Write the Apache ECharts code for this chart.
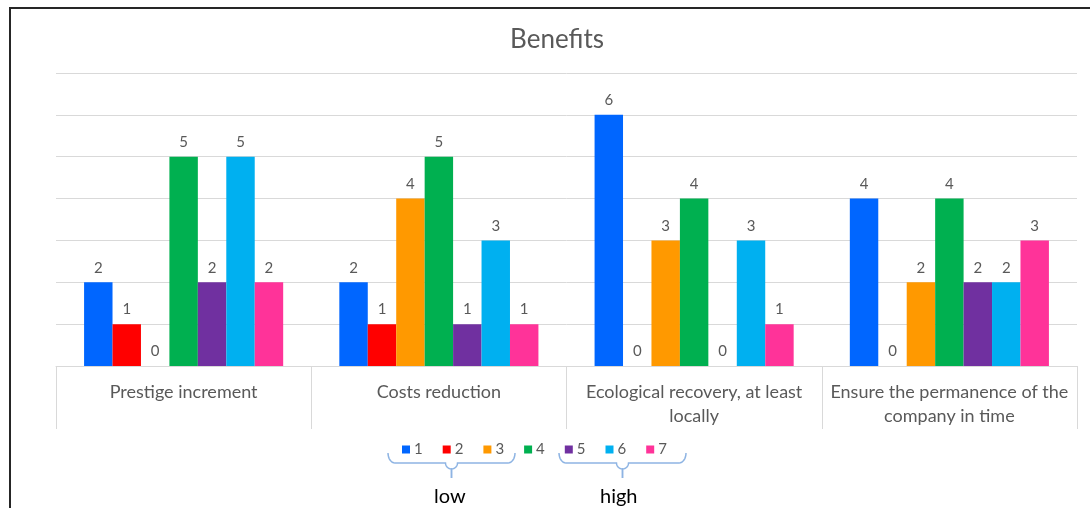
<!DOCTYPE html>
<html>
<head>
<meta charset="utf-8">
<script src="https://cdn.jsdelivr.net/npm/echarts@6/dist/echarts.min.js"></script>
<style>html,body{margin:0;padding:0;background:#fff}#c{width:1090px;height:508px}</style>
</head>
<body>
<div id="c"></div>
<script>
const categories = ["Prestige increment", "Costs reduction", "Ecological recovery, at least\nlocally", "Ensure the permanence of the\ncompany in time"];
const seriesNames = ["1", "2", "3", "4", "5", "6", "7"];
const s1 = [2, 2, 6, 4];
const s2 = [1, 1, 0, 0];
const s3 = [0, 4, 3, 2];
const s4 = [5, 5, 4, 4];
const s5 = [2, 1, 0, 2];
const s6 = [5, 3, 3, 2];
const s7 = [2, 1, 1, 3];
const colors = ["#0066FF", "#FF0000", "#FF9900", "#00B050", "#7030A0", "#00B0F0", "#FF3399"];
const allSeries = [s1, s2, s3, s4, s5, s6, s7];
const FONT = "Lato";

function braceHalf(x0, xm, yTop, yMid, yTip, dir) {
  const pts = [];
  const r = 7;
  for (let k = 0; k <= 8; k++) {
    const a = Math.PI / 2 * k / 8;
    pts.push([x0 + dir * r * (1 - Math.cos(a)), yTop + (yMid - yTop) * Math.sin(a)]);
  }
  for (let k = 0; k <= 8; k++) {
    const a = Math.PI / 2 * k / 8;
    pts.push([xm - dir * 6 * Math.cos(a), yMid + 6 * Math.sin(a)]);
  }
  pts.push([xm, yTip]);
  return pts;
}
function brace(x0, x1, yTop, yMid, yTip) {
  const xm = (x0 + x1) / 2;
  const st = { fill: 'none', stroke: '#8EB4E3', lineWidth: 1.5 };
  return [
    { type: 'polyline', shape: { points: braceHalf(x0, xm, yTop, yMid, yTip, 1) }, style: st, silent: true },
    { type: 'polyline', shape: { points: braceHalf(x1, xm, yTop, yMid, yTip, -1) }, style: st, silent: true }
  ];
}

const chart = echarts.init(document.getElementById('c'));
chart.setOption({
  animation: false,
  backgroundColor: '#fff',
  textStyle: { fontFamily: FONT },
  title: {
    text: 'Benefits', left: 552, top: 22, textAlign: 'center',
    textStyle: { fontFamily: FONT, fontSize: 26, fontWeight: 'normal', color: '#595959' }
  },
  legend: {
    data: seriesNames, left: 397, top: 437,
    itemWidth: 8, itemHeight: 8, itemGap: 20, icon: 'rect',
    textStyle: { fontFamily: FONT, fontSize: 15, color: '#595959', padding: [0, 0, 0, -1] }
  },
  grid: { left: 56, right: 13, top: 73, bottom: 142, containLabel: false },
  xAxis: {
    type: 'category', data: categories,
    axisLine: { lineStyle: { color: '#d9d9d9', width: 1 } },
    axisTick: { show: true, length: 63, lineStyle: { color: '#d9d9d9' } },
    axisLabel: { margin: 14, fontFamily: FONT, fontSize: 18, color: '#595959', lineHeight: 24, interval: 0 }
  },
  yAxis: {
    type: 'value', min: 0, max: 7, interval: 1,
    axisLabel: { show: false }, axisLine: { show: false }, axisTick: { show: false },
    splitLine: { lineStyle: { color: '#d9d9d9', width: 1 } }
  },
  series: allSeries.map((d, i) => ({
    name: seriesNames[i], type: 'bar', data: d,
    barGap: '0%', barCategoryGap: '22%',
    itemStyle: { color: colors[i] },
    label: { show: true, position: 'top', distance: 7, fontFamily: FONT, fontSize: 15, color: '#595959' }
  })),
  graphic: [
    { type: 'rect', shape: { x: 10, y: 8, width: 1200, height: 600 }, style: { fill: 'none', stroke: '#262626', lineWidth: 2 }, silent: true },
    ...brace(388, 515, 453, 463, 478),
    ...brace(559, 686, 453, 463, 478),
    { type: 'text', left: 434, top: 487, style: { text: 'low', fontFamily: FONT, fontSize: 20, fill: '#000' } },
    { type: 'text', left: 600, top: 487, style: { text: 'high', fontFamily: FONT, fontSize: 20, fill: '#000' } }
  ]
});
</script>
</body>
</html>
